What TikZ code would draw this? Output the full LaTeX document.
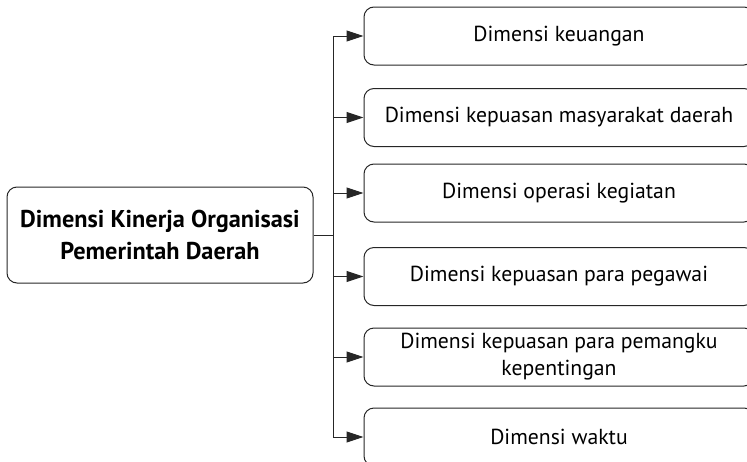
\documentclass[tikz,border=0pt]{standalone}
\usepackage{fontspec}
\setmainfont{PT Sans}
\usetikzlibrary{arrows.meta}
\begin{document}
\begin{tikzpicture}[x=1pt,y=-1pt,
  box/.style={draw=black!85, line width=1pt, rounded corners=10pt, inner sep=2pt, align=center, text=black},
  leaf/.style={box, minimum width=390pt, minimum height=58pt, font=\fontsize{21.7}{27}\selectfont},
  rootbox/.style={box, minimum width=306pt, minimum height=96pt, font=\fontsize{24.3}{32}\selectfont\bfseries},
  conn/.style={draw=black!85, line width=1pt},
  arr/.style={conn, -{Triangle[length=17pt,width=11pt]}}]
\useasboundingbox (0,0) rectangle (747,461);
\clip (0,0) rectangle (747,461);
\node[rootbox] (root) at (160,235) {Dimensi Kinerja Organisasi\\Pemerintah Daerah};
\node[leaf] (b1) at (559,36) {Dimensi keuangan};
\node[leaf] (b2) at (559,117.5) {Dimensi kepuasan masyarakat daerah};
\node[leaf] (b3) at (559,193) {Dimensi operasi kegiatan};
\node[leaf] (b4) at (559,276.5) {Dimensi kepuasan para pegawai};
\node[leaf] (b5) at (559,357) {Dimensi kepuasan para pemangku\\kepentingan};
\node[leaf] (b6) at (559,437) {Dimensi waktu};
\coordinate (j) at (333,235);
\draw[conn] (root.east) -- (j);
\draw[conn] (j |- b1.west) -- (j |- b6.west);
\foreach \b in {b1,b2,b3,b4,b5,b6} {
  \draw[arr] (j |- \b.west) -- (\b.west);
}
\end{tikzpicture}
\end{document}
